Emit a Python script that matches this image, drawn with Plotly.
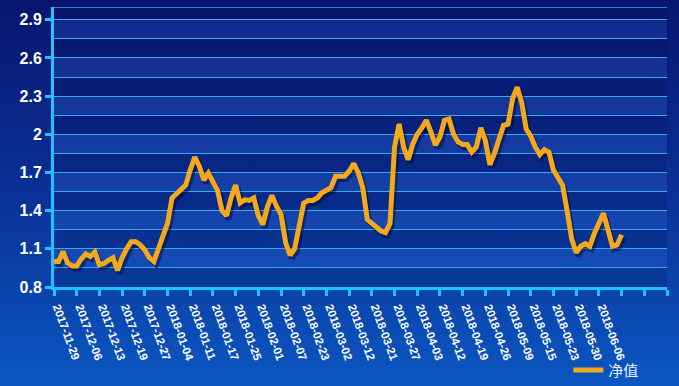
import base64
import plotly.graph_objects as go

# ---- data ----
tick_labels = ["2017-11-29", "2017-12-06", "2017-12-13", "2017-12-19", "2017-12-27",
               "2018-01-04", "2018-01-11", "2018-01-17", "2018-01-25", "2018-02-01",
               "2018-02-07", "2018-02-23", "2018-03-02", "2018-03-12", "2018-03-21",
               "2018-03-27", "2018-04-03", "2018-04-12", "2018-04-19", "2018-04-26",
               "2018-05-09", "2018-05-15", "2018-05-23", "2018-05-30", "2018-06-06"]
points_per_label = 5
extra_ticks = 3

nav_values = [
    1.00, 1.00, 1.078, 0.99, 0.965, 0.965, 1.02, 1.06, 1.04, 1.075,
    0.975, 0.985, 1.01, 1.03, 0.93, 1.03, 1.10, 1.155, 1.155, 1.13,
    1.09, 1.03, 1.00, 1.10, 1.20, 1.30, 1.50, 1.537, 1.56, 1.60,
    1.72, 1.82, 1.75, 1.64, 1.694, 1.63, 1.56, 1.40, 1.36, 1.50,
    1.60, 1.46, 1.485, 1.48, 1.50, 1.36, 1.29, 1.43, 1.52, 1.435,
    1.37, 1.15, 1.05, 1.10, 1.30, 1.46, 1.48, 1.48, 1.50, 1.54,
    1.56, 1.58, 1.67, 1.675, 1.67, 1.71, 1.77, 1.70, 1.58, 1.33,
    1.30, 1.27, 1.24, 1.227, 1.30, 1.90, 2.08, 1.90, 1.80, 1.92,
    2.00, 2.05, 2.11, 2.02, 1.915, 1.98, 2.11, 2.12, 2.00, 1.94,
    1.92, 1.92, 1.86, 1.90, 2.05, 1.95, 1.76, 1.85, 1.97, 2.07,
    2.08, 2.28, 2.37, 2.25, 2.04, 1.985, 1.90, 1.84, 1.88, 1.86,
    1.72, 1.65, 1.60, 1.40, 1.18, 1.07, 1.12, 1.14, 1.12, 1.22,
    1.29, 1.38, 1.25, 1.12, 1.13, 1.21,
]
series_name = "净值"

y_min, y_max = 0.8, 3.0
y_label_step = 0.3
y_grid_step = 0.15

# ---- styling ----
CYAN = "#1ec3ff"
GRID = "#3aa8ee"
ORANGE = "#f4a81c"
FONT = "Arial, Liberation Sans, sans-serif"

x_idx = list(range(len(nav_values)))
n_ticks = len(tick_labels) + extra_ticks
x_max = (n_ticks - 1) * points_per_label
tickvals = [i * points_per_label for i in range(n_ticks)]
ticktext = tick_labels + [""] * extra_ticks

fig = go.Figure()

# shadow line (on shifted overlay axes)
fig.add_trace(go.Scatter(x=x_idx, y=nav_values, mode="lines", xaxis="x2", yaxis="y2",
                         line=dict(color="rgba(0,5,40,0.45)", width=5.5),
                         hoverinfo="skip", showlegend=False))
# main line
fig.add_trace(go.Scatter(x=x_idx, y=nav_values, mode="lines", xaxis="x3", yaxis="y3",
                         name=series_name,
                         line=dict(color=ORANGE, width=5, shape="linear")))

# background gradient
svg = ('<svg xmlns="http://www.w3.org/2000/svg" width="10" height="100" preserveAspectRatio="none">'
       '<defs><linearGradient id="g" x1="0" y1="0" x2="0" y2="1">'
       '<stop offset="0" stop-color="#07126a"/>'
       '<stop offset="0.5" stop-color="#0a3298"/>'
       '<stop offset="1" stop-color="#0b5fca"/>'
       '</linearGradient></defs><rect width="10" height="100" fill="url(#g)"/></svg>')
svg_uri = "data:image/svg+xml;base64," + base64.b64encode(svg.encode()).decode()

W, H = 679, 386
ml, mr, mt, mb = 54, 12, 7, 99
px_per_x = (W - ml - mr) / x_max
px_per_y = (H - mt - mb) / (y_max - y_min)
dx = 2.0 / px_per_x
dy = 3.0 / px_per_y

shapes = []
# alternating horizontal bands
n_bands = int(round((y_max - y_min) / y_grid_step)) + 1
for k in range(n_bands):
    b0 = y_min + k * y_grid_step
    b1 = min(b0 + y_grid_step, y_max)
    if b0 >= y_max:
        break
    fill = "rgba(70,140,255,0.18)" if k % 2 == 1 else "rgba(0,0,40,0.12)"
    shapes.append(dict(type="rect", xref="paper", yref="y", x0=0, x1=1, y0=b0, y1=b1,
                       fillcolor=fill, line=dict(width=0), layer="below"))
# top border line
shapes.append(dict(type="line", xref="paper", yref="y", x0=0, x1=1, y0=y_max, y1=y_max,
                   line=dict(color=GRID, width=1.5)))

fig.update_layout(
    width=W, height=H,
    margin=dict(l=ml, r=mr, t=mt, b=mb, autoexpand=False),
    paper_bgcolor="#0a3298",
    plot_bgcolor="rgba(0,0,0,0)",
    images=[dict(source=svg_uri, xref="paper", yref="paper", x=-0.2, y=1.1,
                 sizex=1.5, sizey=1.6, sizing="stretch", layer="below",
                 xanchor="left", yanchor="top")],
    shapes=shapes,
    showlegend=True,
    legend=dict(x=0.839, y=-0.297, xanchor="left", yanchor="middle",
                bgcolor="rgba(0,0,0,0)",
                font=dict(family="Noto Sans CJK SC", size=15, color="#e6eef8")),
    xaxis=dict(range=[0, x_max], tickmode="array", tickvals=tickvals, ticktext=ticktext,
               tickangle=70, ticks="outside", ticklen=6, tickwidth=2.5, tickcolor=CYAN,
               showline=True, linecolor=CYAN, linewidth=3, showgrid=False, zeroline=False,
               automargin=False, ticklabelshift=4,
               tickfont=dict(family=FONT, size=11.5, color="white", weight="bold")),
    yaxis=dict(range=[y_min, y_max], tick0=y_min, dtick=y_label_step,
               ticks="outside", ticklen=6, tickwidth=2.5, tickcolor=CYAN,
               showline=True, linecolor=CYAN, linewidth=3, zeroline=False,
               showgrid=True, gridcolor=GRID, gridwidth=1.2, automargin=False,
               minor=dict(tick0=y_min, dtick=y_grid_step, showgrid=True,
                          gridcolor=GRID, gridwidth=1.2, ticks=""),
               tickformat="~g",
               tickfont=dict(family=FONT, size=16, color="white", weight="bold")),
    xaxis2=dict(overlaying="x", range=[-dx, x_max - dx], visible=False),
    yaxis2=dict(overlaying="y", range=[y_min + dy, y_max + dy], visible=False),
    xaxis3=dict(overlaying="x", range=[0, x_max], visible=False),
    yaxis3=dict(overlaying="y", range=[y_min, y_max], visible=False),
)

fig.write_html("out.html", config={"displayModeBar": False},
               post_script="document.body.style.margin='0';document.body.style.overflow='hidden';")
